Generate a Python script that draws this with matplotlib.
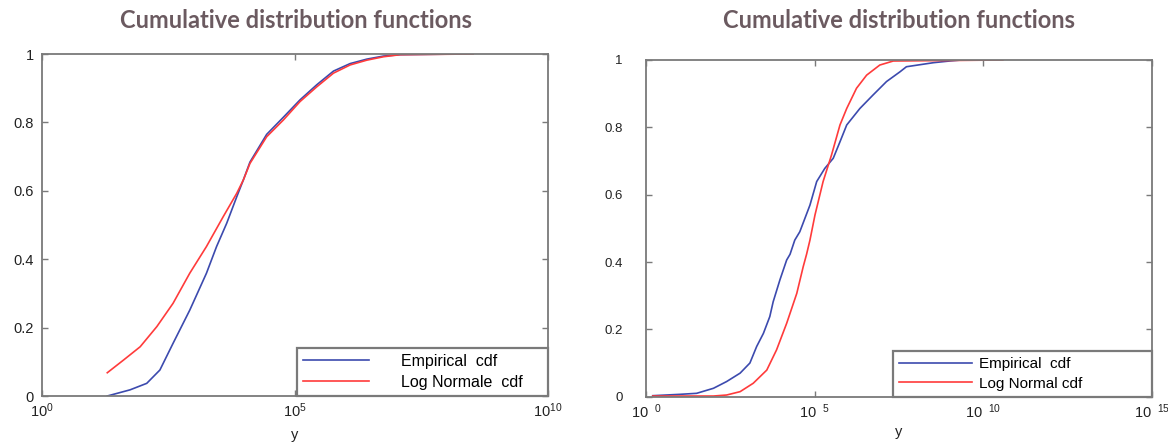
import numpy as np
import matplotlib
matplotlib.use('Agg')
import matplotlib.pyplot as plt

# values: x as log10(y), cdf value
left_emp_logx = [1.29, 1.74, 2.07, 2.33, 2.59, 2.92, 3.25, 3.45, 3.65, 3.85, 3.98, 4.11, 4.44,
                 4.77, 5.10, 5.43, 5.76, 6.09, 6.42, 6.75, 7.08, 8.26]
left_emp_cdf = [0.0, 0.018, 0.037, 0.076, 0.154, 0.251, 0.359, 0.437, 0.505, 0.583, 0.632, 0.684,
                0.765, 0.815, 0.866, 0.910, 0.950, 0.972, 0.985, 0.994, 0.998, 1.0]
left_fit_logx = [1.29, 1.61, 1.94, 2.27, 2.59, 2.92, 3.25, 3.58, 3.85, 3.98, 4.11, 4.44, 4.77,
                 5.10, 5.43, 5.76, 6.09, 6.42, 6.75, 7.08, 8.52]
left_fit_cdf = [0.068, 0.105, 0.144, 0.203, 0.271, 0.359, 0.437, 0.524, 0.593, 0.632, 0.680, 0.758,
                0.807, 0.861, 0.904, 0.944, 0.968, 0.982, 0.992, 0.998, 1.0]

right_emp_logx = [0.2, 1.0, 1.5, 2.0, 2.39, 2.79, 3.08, 3.28, 3.48, 3.67, 3.77, 3.97, 4.17, 4.27,
                  4.41, 4.56, 4.86, 5.06, 5.30, 5.55, 5.75, 5.95, 6.34, 6.73, 7.13, 7.53, 7.72,
                  8.52, 9.0, 9.35]
right_emp_cdf = [0.003, 0.007, 0.01, 0.025, 0.045, 0.07, 0.10, 0.149, 0.188, 0.238, 0.282, 0.347,
                 0.406, 0.423, 0.465, 0.49, 0.569, 0.639, 0.678, 0.708, 0.757, 0.807, 0.856, 0.896,
                 0.936, 0.965, 0.98, 0.992, 0.997, 1.0]
right_fit_logx = [0.2, 2.0, 2.39, 2.79, 3.18, 3.58, 3.87, 4.17, 4.47, 4.66, 4.76, 4.86, 5.01, 5.25,
                  5.50, 5.75, 5.95, 6.24, 6.54, 6.93, 7.33, 10.58]
right_fit_cdf = [0.002, 0.002, 0.005, 0.015, 0.04, 0.079, 0.139, 0.218, 0.307, 0.386, 0.423, 0.465,
                 0.540, 0.639, 0.718, 0.807, 0.856, 0.916, 0.955, 0.985, 0.997, 1.0]

title = 'Cumulative distribution functions'
left_labels = ['Empirical  cdf', 'Log Normale  cdf']
right_labels = ['Empirical  cdf', 'Log Normal cdf']
left_xticks = [0, 5, 10]
right_xticks = [0, 5, 10, 15]
yticks = [0, 0.2, 0.4, 0.6, 0.8, 1]

blue = '#3c4aae'
red = '#ff3b3b'
frame = '#7a7a7a'

plt.rcParams['font.family'] = ['Liberation Sans', 'DejaVu Sans']

fig = plt.figure(figsize=(11.68, 4.48), dpi=100)
ax1 = fig.add_axes([42/1168, 1 - 396/448, 506/1168, 342/448])
ax2 = fig.add_axes([646/1168, 1 - 396.7/448, 506/1168, 336.7/448])


def style_axes(ax, xt, xlabels, yfs, xfs, ypad, xpad, lpad):
    ax.set_xscale('log')
    ax.set_xlim(10.0 ** xt[0], 10.0 ** xt[-1])
    ax.set_ylim(0, 1)
    ax.set_xticks([10.0 ** v for v in xt])
    ax.set_xticklabels(xlabels)
    ax.minorticks_off()
    ax.set_yticks(yticks)
    ax.set_yticklabels(['0', '0.2', '0.4', '0.6', '0.8', '1'])
    ax.tick_params(direction='in', top=True, right=True, length=4, width=1, color=frame,
                   labelcolor='#222222')
    ax.tick_params(axis='y', pad=ypad, labelsize=yfs)
    ax.tick_params(axis='x', pad=xpad, labelsize=xfs)
    for s in ax.spines.values():
        s.set_color(frame)
        s.set_linewidth(1.3)
    ax.set_xlabel('y', fontsize=10.5, color='#222222', labelpad=lpad)


# left panel
ax1.plot(10.0 ** np.array(left_emp_logx), left_emp_cdf, color=blue, lw=1.2, label=left_labels[0])
ax1.plot(10.0 ** np.array(left_fit_logx), left_fit_cdf, color=red, lw=1.2, label=left_labels[1])
style_axes(ax1, left_xticks, [r'$\mathregular{10^{%d}}$' % v for v in left_xticks],
           10.5, 10.5, 6, 4, 6)
leg1 = ax1.legend(loc='lower left', bbox_to_anchor=(0.504, 0.0, 0.496, 0.143), mode='expand',
                  borderaxespad=0, fancybox=False, fontsize=11.5, handlelength=4.1,
                  handletextpad=2.0, labelspacing=0.35, borderpad=0.4, framealpha=1)
leg1.get_frame().set_edgecolor(frame)
leg1.get_frame().set_linewidth(1.6)

# right panel
ax2.plot(10.0 ** np.array(right_emp_logx), right_emp_cdf, color=blue, lw=1.2, label=right_labels[0])
ax2.plot(10.0 ** np.array(right_fit_logx), right_fit_cdf, color=red, lw=1.2, label=right_labels[1])
style_axes(ax2, right_xticks, [r'$\mathregular{10^{\ \ %d}}$' % v for v in right_xticks],
           9.5, 10.5, 17, 4, 3)
leg2 = ax2.legend(loc='lower left', bbox_to_anchor=(0.488, 0.0, 0.512, 0.139), mode='expand',
                  borderaxespad=0, fancybox=False, fontsize=11, handlelength=4.8,
                  handletextpad=0.45, labelspacing=0.35, borderpad=0.4, framealpha=1)
leg2.get_frame().set_edgecolor(frame)
leg2.get_frame().set_linewidth(1.6)

for cx in (296, 899):
    fig.text(cx/1168, 1 - 20/448, title, ha='center', va='center', fontsize=17,
             fontweight='bold', color='#6b5a60', family=['Lato', 'DejaVu Sans'])

fig.savefig('out.png', dpi=100)
